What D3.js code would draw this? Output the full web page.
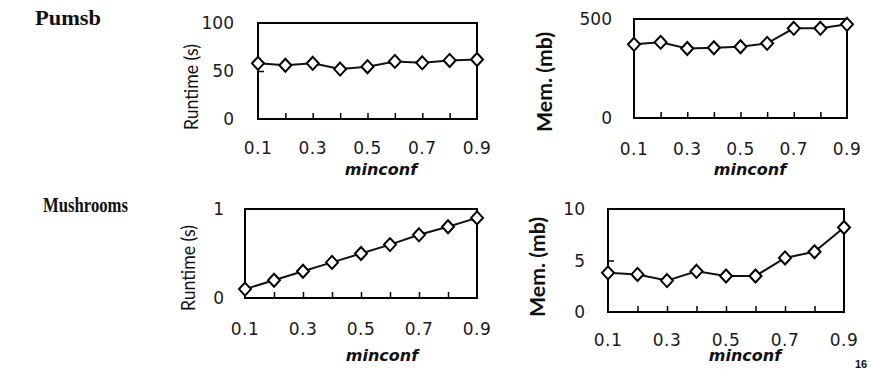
<!DOCTYPE html>
<html>
<head>
<meta charset="utf-8">
<script src="https://cdn.jsdelivr.net/npm/d3@7"></script>
<style>
  html, body { margin: 0; padding: 0; background: #fff; }
  svg { display: block; }
</style>
</head>
<body>
<svg id="chart" width="871" height="369"></svg>
<script>
// ---- data ----
const minconf = [0.1, 0.2, 0.3, 0.4, 0.5, 0.6, 0.7, 0.8, 0.9];
const xTickLabels = [0.1, 0.3, 0.5, 0.7, 0.9];
const pumsbRuntime = [58, 56, 58, 52, 54.5, 60, 58.5, 61, 62];
const pumsbMemory = [372, 382, 351, 355, 360, 377, 453, 453, 473];
const mushroomsRuntime = [0.1, 0.2, 0.3, 0.4, 0.5, 0.6, 0.71, 0.8, 0.9];
const mushroomsMemory = [3.8, 3.65, 3.05, 3.95, 3.5, 3.5, 5.25, 5.85, 8.2];
const pumsbRuntimeTicks = [0, 50, 100];
const pumsbMemoryTicks = [0, 500];
const mushroomsRuntimeTicks = [0, 1];
const mushroomsMemoryTicks = [0, 5, 10];
const datasetNames = ["Pumsb", "Mushrooms"];
const runtimeTitle = "Runtime (s)";
const memoryTitle = "Mem. (mb)";
const xTitle = "minconf";
const pageNumber = "16";

// ---- layout ----
const panels = [
  {values: pumsbRuntime, ticks: pumsbRuntimeTicks, domain: [0, 100], title: runtimeTitle, mem: false,
   x0: 258, x1: 477, top: 23, bottom: 119, ylabX: 234, titleX: 191, titleY: 87, xlabBase: 154, mcX: 381, mcY: 175},
  {values: pumsbMemory, ticks: pumsbMemoryTicks, domain: [0, 500], title: memoryTitle, mem: true,
   x0: 634, x1: 847, top: 19, bottom: 118, ylabX: 612, titleX: 545, titleY: 82, xlabBase: 155, mcX: 750, mcY: 175},
  {values: mushroomsRuntime, ticks: mushroomsRuntimeTicks, domain: [0, 1], title: runtimeTitle, mem: false,
   x0: 245, x1: 477, top: 209, bottom: 298, ylabX: 224, titleX: 188, titleY: 268, xlabBase: 335, mcX: 382, mcY: 361},
  {values: mushroomsMemory, ticks: mushroomsMemoryTicks, domain: [0, 10], title: memoryTitle, mem: true,
   x0: 608, x1: 844, top: 209, bottom: 312, ylabX: 585, titleX: 538, titleY: 267, xlabBase: 346, mcX: 745, mcY: 361}
];

const svg = d3.select("#chart");
const tickFont = "'DejaVu Sans', sans-serif";
const titleFont = "Lato, 'Open Sans', sans-serif";
const serif = "'Liberation Serif', 'Times New Roman', serif";

// dataset names
svg.append("text").attr("x", 35).attr("y", 25)
  .attr("font-family", serif).attr("font-weight", "bold")
  .attr("font-size", 20).attr("textLength", 66).attr("lengthAdjust", "spacingAndGlyphs")
  .attr("fill", "#111").text(datasetNames[0]);
svg.append("text").attr("x", 43).attr("y", 212)
  .attr("font-family", serif).attr("font-weight", "bold")
  .attr("font-size", 21).attr("textLength", 85).attr("lengthAdjust", "spacingAndGlyphs")
  .attr("fill", "#111").text(datasetNames[1]);

const diamond = (hw, hh) => `M0,${-hh}L${hw},0L0,${hh}L${-hw},0Z`;

panels.forEach(p => {
  const x = d3.scaleLinear().domain([0.1, 0.9]).range([p.x0, p.x1]);
  const y = d3.scaleLinear().domain(p.domain).range([p.bottom, p.top]);
  const g = svg.append("g");

  // interior x tick marks (inward)
  const xAxis = d3.axisTop(x).tickValues(minconf.slice(1, -1)).tickSize(6).tickFormat("");
  const xa = g.append("g").attr("transform", `translate(0,${p.bottom})`).call(xAxis);
  xa.select(".domain").remove();
  xa.selectAll(".tick line").attr("stroke", "#000").attr("stroke-width", 1.5);

  // interior y tick marks (inward)
  const midTicks = p.ticks.filter(t => t !== p.domain[0] && t !== p.domain[1]);
  const yAxis = d3.axisRight(y).tickValues(midTicks).tickSize(6).tickFormat("");
  const ya = g.append("g").attr("transform", `translate(${p.x0},0)`).call(yAxis);
  ya.select(".domain").remove();
  ya.selectAll(".tick line").attr("stroke", "#000").attr("stroke-width", 1.5);

  // frame
  g.append("rect").attr("x", x(0.1)).attr("y", y(p.domain[1]))
    .attr("width", x(0.9) - x(0.1)).attr("height", y(p.domain[0]) - y(p.domain[1]))
    .attr("fill", "none").attr("stroke", "#000").attr("stroke-width", 2);

  // y tick labels
  g.selectAll(".ylab").data(p.ticks).enter().append("text")
    .attr("x", p.ylabX).attr("y", d => y(d))
    .attr("dy", "0.36em").attr("text-anchor", "end")
    .attr("font-family", tickFont).attr("font-size", 17).attr("fill", "#1a1a1a")
    .text(d => d);

  // x tick labels
  g.selectAll(".xlab").data(xTickLabels).enter().append("text")
    .attr("x", d => x(d)).attr("y", p.xlabBase)
    .attr("text-anchor", "middle")
    .attr("font-family", tickFont).attr("font-size", 17).attr("fill", "#1a1a1a")
    .attr("letter-spacing", "0.5px")
    .text(d => d.toFixed(1));

  // x title
  g.append("text").attr("x", p.mcX).attr("y", p.mcY).attr("text-anchor", "middle")
    .attr("font-family", tickFont).attr("font-weight", "bold").attr("font-style", "italic")
    .attr("font-size", 16).attr("fill", "#111").text(xTitle);

  // y title
  g.append("text")
    .attr("transform", `translate(${p.titleX},${p.titleY}) rotate(-90)`)
    .attr("text-anchor", "middle").attr("dy", "0.35em")
    .attr("font-family", titleFont)
    .attr("font-weight", p.mem ? "bold" : "normal")
    .attr("font-size", p.mem ? 20 : 20)
    .attr("textLength", p.mem ? 100 : 86).attr("lengthAdjust", "spacingAndGlyphs")
    .attr("fill", "#111")
    .text(p.title);

  // line
  const line = d3.line().x((d, i) => x(minconf[i])).y(d => y(d));
  g.append("path").datum(p.values).attr("d", line)
    .attr("fill", "none").attr("stroke", "#111").attr("stroke-width", 2);

  // markers
  g.selectAll(".pt").data(p.values).enter().append("path")
    .attr("transform", (d, i) => `translate(${x(minconf[i])},${y(d)})`)
    .attr("d", diamond(6, 6.5))
    .attr("fill", "#fff").attr("stroke", "#000").attr("stroke-width", 2);
});

svg.append("text").attr("x", 861).attr("y", 368).attr("text-anchor", "middle")
  .attr("font-family", "'Liberation Sans', Arial, sans-serif").attr("font-weight", "bold")
  .attr("font-size", 11).attr("fill", "#111").text(pageNumber);
</script>
</body>
</html>
